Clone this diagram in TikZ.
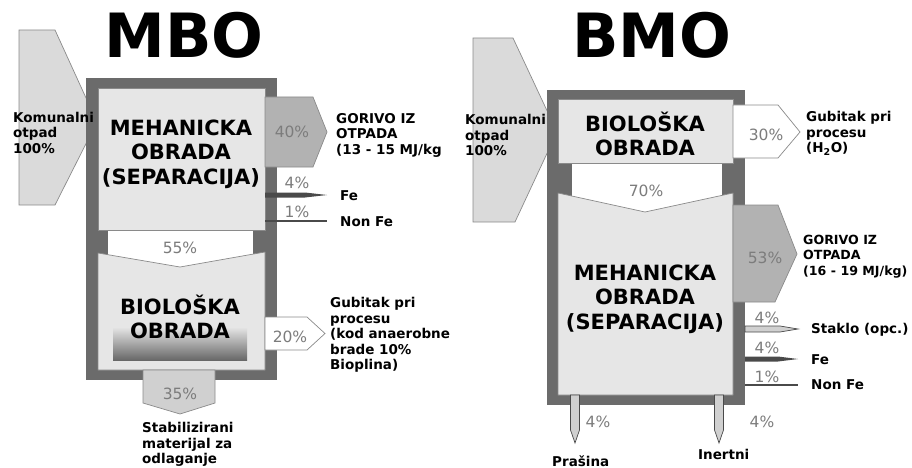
\documentclass[tikz,border=0pt]{standalone}
\usepackage{fontspec}
\setmainfont{DejaVu Sans}
\definecolor{framec}{HTML}{6B6B6B}
\definecolor{boxc}{HTML}{E6E6E6}
\definecolor{boxline}{HTML}{8A8A8A}
\definecolor{inc}{HTML}{DADADA}
\definecolor{midc}{HTML}{B2B2B2}
\definecolor{lowc}{HTML}{D0D0D0}
\definecolor{spikec}{HTML}{4A4A4A}
\definecolor{pctc}{HTML}{7C7C7C}
\definecolor{gradc}{HTML}{686868}
\begin{document}
\begin{tikzpicture}[x=1pt,y=-1pt,
  frame/.style={fill=framec,draw=none},
  box/.style={fill=boxc,draw=boxline,line width=0.7pt},
  band/.style={fill=white,draw=none},
  inarrow/.style={fill=inc,draw=boxline,line width=0.7pt},
  midarrow/.style={fill=midc,draw=boxline,line width=0.7pt},
  whitearrow/.style={fill=white,draw=boxline,line width=0.7pt},
  lowarrow/.style={fill=lowc,draw=boxline,line width=0.7pt},
  darkspike/.style={fill=spikec,draw=none},
  lightspike/.style={fill=lowc,draw=spikec,line width=0.7pt},
  thinspike/.style={draw=spikec,line width=1.8pt},
  lbl/.style={font=\fontsize{13.5}{15.5}\selectfont\bfseries,align=left,inner sep=0pt,anchor=north west},
  lblsm/.style={lbl,font=\fontsize{12.6}{15.5}\selectfont\bfseries},
  pct/.style={font=\fontsize{15.5}{15.5}\selectfont,text=pctc,inner sep=0pt},
  big/.style={font=\fontsize{21}{24.5}\selectfont\bfseries,align=center,inner sep=0pt},
  title/.style={font=\fontsize{61}{61}\selectfont\bfseries,inner sep=0pt}]
\useasboundingbox (0,0) rectangle (912,468);

%%%%%%%%%%%%%%%% MBO %%%%%%%%%%%%%%%%
\node[title] (t1) at (184,35) {MBO};
% input arrow
\draw[inarrow] (19,30) -- (55,30) -- (97,122) -- (55,205) -- (19,205) -- cycle;
% frame
\fill[frame] (86,78) rectangle (277,380);
\fill[band] (108,228) rectangle (253,268);
% top box
\draw[box] (98,88) rectangle (265,230);
% lower box
\draw[box] (98,253) -- (180,267) -- (265,252) -- (265,370) -- (98,370) -- cycle;
\shade[top color=boxc, bottom color=gradc] (113,327) rectangle (247,360);
% outputs
\draw[midarrow] (265,97) -- (313,97) -- (327,132) -- (313,167) -- (265,167) -- cycle;
\fill[darkspike] (265,192.5) -- (305,192.5) -- (327,195) -- (305,197.5) -- (265,197.5) -- cycle;
\coordinate (nf1a) at (265,221);
\coordinate (nf1b) at (327,221);
\draw[thinspike] (nf1a) -- (nf1b);
\draw[whitearrow] (265,317) -- (307,317) -- (325,333.5) -- (307,350) -- (265,350) -- cycle;
\draw[lowarrow] (143,370) -- (215,370) -- (215,403) -- (180,414) -- (143,403) -- cycle;

\node[big] (m1) at (181,154) {MEHANICKA\\OBRADA\\(SEPARACIJA)};
\node[big] (b1) at (180,317) {BIOLOŠKA\\OBRADA};

\node[pct] (p40) at (292,132) {40\%};
\node[pct] (p4a) at (297,183) {4\%};
\node[pct] (p1a) at (297,212) {1\%};
\node[pct] (p55) at (180,248) {55\%};
\node[pct] (p20) at (290,337) {20\%};
\node[pct] (p35) at (180,394) {35\%};

\node[lbl] (k1) at (13,112) {Komunalni\\otpad\\100\%};
\node[lbl] (g1) at (336,113) {GORIVO IZ\\OTPADA\\(13 - 15 MJ/kg};
\node[lbl] (fe1) at (340,190.5) {Fe};
\node[lbl] (nfe1) at (340,216.5) {Non Fe};
\node[lbl] (gb1) at (330,297.5) {Gubitak pri\\procesu\\(kod anaerobne\\brade 10\%\\Bioplina)};
\node[lbl] (s1) at (142,422.5) {Stabilizirani\\materijal za\\odlaganje};

%%%%%%%%%%%%%%%% BMO %%%%%%%%%%%%%%%%
\node[title] (t2) at (652,35) {BMO};
\draw[inarrow] (473,38) -- (513,38) -- (557,132) -- (515,222) -- (473,222) -- cycle;
\fill[frame] (547,90) rectangle (745,405);
\fill[band] (572,160) rectangle (722,213);
\draw[box] (558,99) rectangle (733,163);
\draw[box] (558,193) -- (645,212) -- (733,193) -- (733,395) -- (558,395) -- cycle;

\draw[whitearrow] (733,105) -- (778,105) -- (800,132) -- (778,158) -- (733,158) -- cycle;
\draw[midarrow] (733,205) -- (778,205) -- (797,254) -- (775,302) -- (733,302) -- cycle;
\draw[lightspike] (745,326) -- (780,326) -- (798,329) -- (780,332) -- (745,332) -- cycle;
\fill[darkspike] (745,356.5) -- (778,356.5) -- (798,359) -- (778,361.5) -- (745,361.5) -- cycle;
\coordinate (nf2a) at (745,385);
\coordinate (nf2b) at (798,385);
\draw[thinspike] (nf2a) -- (nf2b);
\draw[lightspike] (570.5,395) -- (579.5,395) -- (579.5,430) -- (575,443) -- (570.5,430) -- cycle;
\draw[lightspike] (714.5,395) -- (723.5,395) -- (723.5,430) -- (719,443) -- (714.5,430) -- cycle;

\node[big] (b2) at (645,134) {BIOLOŠKA\\OBRADA};
\node[big] (m2) at (645,299) {MEHANICKA\\OBRADA\\(SEPARACIJA)};

\node[pct] (p30) at (766,135) {30\%};
\node[pct] (p70) at (646,191) {70\%};
\node[pct] (p53) at (765,258) {53\%};
\node[pct] (p4b) at (767,318) {4\%};
\node[pct] (p4c) at (767,348) {4\%};
\node[pct] (p1b) at (767,377) {1\%};
\node[pct] (p4d) at (598,422) {4\%};
\node[pct] (p4e) at (762,422) {4\%};

\node[lbl] (k2) at (465,114.5) {Komunalni\\otpad\\100\%};
\node[lbl] (gb2) at (806,111.5) {Gubitak pri\\procesu\\(H\textsubscript{2}O)};
\node[lblsm] (g2) at (803,234.5) {GORIVO IZ\\OTPADA\\(16 - 19 MJ/kg)};
\node[lbl] (st2) at (811,323.5) {Staklo (opc.)};
\node[lbl] (fe2) at (811,354.5) {Fe};
\node[lbl] (nfe2) at (811,379.5) {Non Fe};
\node[lbl] (pr2) at (552,455.5) {Prašina};
\node[lbl] (in2) at (698,449.5) {Inertni};
\end{tikzpicture}
\end{document}
